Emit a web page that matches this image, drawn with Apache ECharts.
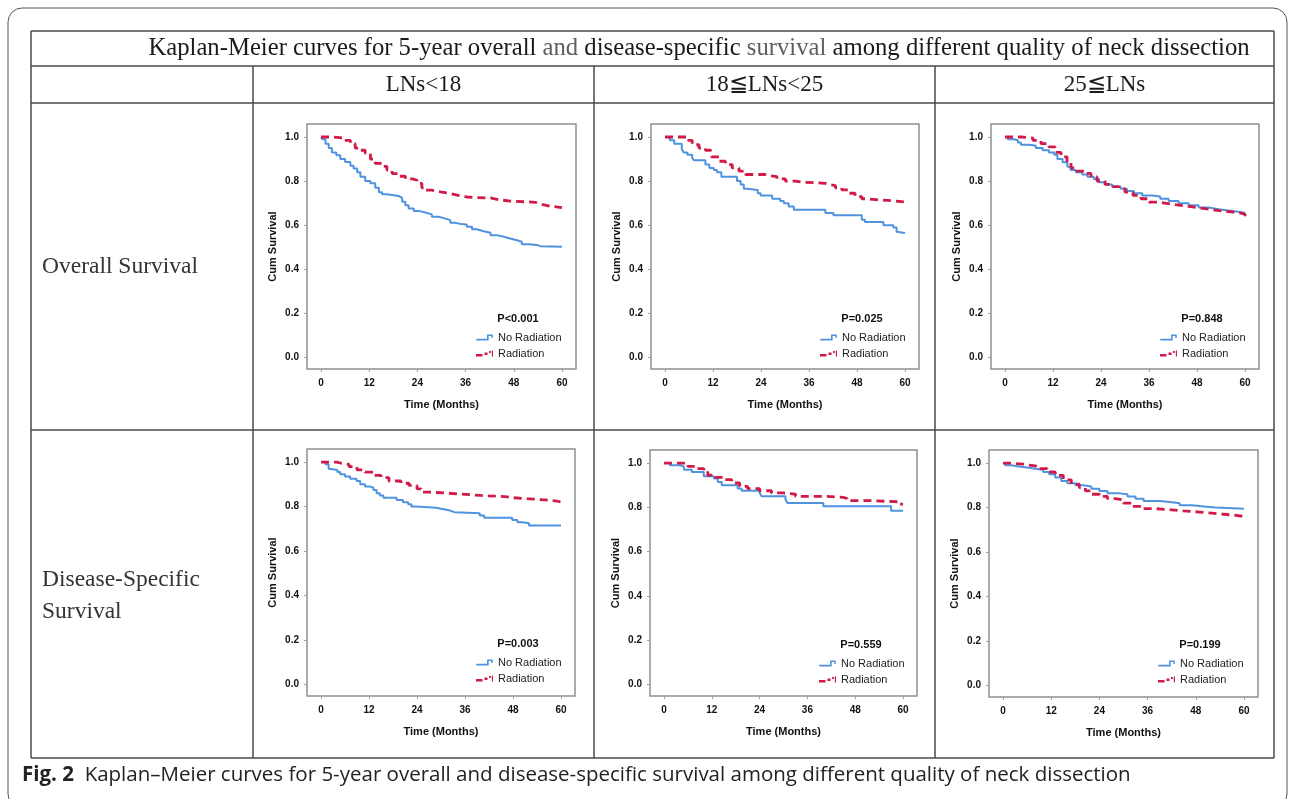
<!DOCTYPE html>
<html><head><meta charset="utf-8">
<script src="https://cdn.jsdelivr.net/npm/echarts@6/dist/echarts.min.js"></script>
<style>html,body{margin:0;padding:0;background:#fff}#c{width:1290px;height:799px}</style>
</head><body><div id="c"></div>
<script>
// ---------- data ----------
const tableTitleParts = ['Kaplan-Meier curves for 5-year overall ', 'and', ' disease-specific ', 'survival', ' among different quality of neck dissection'];
const columnHeaders = ['LNs<18', '18\u2266LNs<25', '25\u2266LNs'];
const rowHeaders = [['Overall Survival'], ['Disease-Specific', 'Survival']];
const captionLabel = 'Fig. 2';
const captionText = 'Kaplan\u2013Meier curves for 5-year overall and disease-specific survival among different quality of neck dissection';
const timeTicks = [0, 12, 24, 36, 48, 60];
const survTicks = [0, 0.2, 0.4, 0.6, 0.8, 1.0];
const seriesNames = ['No Radiation', 'Radiation'];
const pValues = ['P<0.001', 'P=0.025', 'P=0.848', 'P=0.003', 'P=0.559', 'P=0.199'];
const xAxisName = 'Time (Months)';
const yAxisName = 'Cum Survival';

const os1NoRad = [[0,1.0],[0.3,0.99],[1.1,0.97],[1.9,0.95],[2.7,0.93],[3.8,0.917],[4.8,0.90],[6.0,0.887],[7.3,0.87],[8.1,0.857],[9.0,0.84],[9.8,0.82],[11.0,0.80],[12.3,0.79],[13.5,0.77],[14.4,0.75],[15.2,0.74],[16.4,0.736],[18.1,0.733],[19.3,0.724],[20.2,0.706],[21.0,0.69],[21.8,0.676],[23.1,0.665],[24.3,0.658],[26.0,0.649],[27.6,0.638],[29.3,0.63],[31.0,0.623],[32.2,0.611],[33.4,0.605],[34.9,0.603],[36.3,0.593],[37.6,0.582],[38.8,0.573],[40.5,0.566],[42.2,0.555],[43.8,0.548],[45.5,0.54],[47.1,0.532],[48.8,0.525],[50.0,0.514],[51.7,0.51],[53.8,0.505],[54.6,0.502],[60,0.502]];
const os1Rad = [[0,1.0],[3.2,0.995],[5.6,0.985],[7.3,0.97],[8.5,0.95],[9.8,0.94],[11.0,0.925],[12.3,0.90],[13.5,0.88],[15.2,0.867],[16.4,0.85],[17.7,0.834],[19.3,0.822],[21.0,0.81],[22.7,0.804],[23.9,0.79],[25.1,0.77],[26.0,0.759],[27.6,0.751],[29.7,0.744],[32.2,0.736],[33.9,0.728],[36.3,0.725],[38.8,0.724],[42.2,0.716],[44.2,0.709],[47.1,0.706],[51.3,0.704],[53.4,0.695],[55.0,0.686],[57.1,0.68],[60,0.679]];
const os2NoRad = [[0,1.0],[1.2,0.985],[2.3,0.97],[4.2,0.945],[4.7,0.93],[5.6,0.92],[6.8,0.905],[7.2,0.895],[10.1,0.875],[11.1,0.86],[12.2,0.85],[13.0,0.84],[14.1,0.82],[18.0,0.80],[18.9,0.785],[19.7,0.765],[20.5,0.76],[23.2,0.745],[23.9,0.735],[26.8,0.72],[28.8,0.71],[29.7,0.70],[30.9,0.685],[32.2,0.67],[40.1,0.655],[42.1,0.645],[49.2,0.625],[50.0,0.615],[54.6,0.60],[57.1,0.59],[57.9,0.57],[58.3,0.565],[60,0.565]];
const os2Rad = [[0,1.0],[5.8,0.985],[6.8,0.965],[8.5,0.95],[10.1,0.94],[11.4,0.935],[11.6,0.91],[13.5,0.89],[15.1,0.875],[16.8,0.86],[18.5,0.845],[20.1,0.83],[25.1,0.825],[25.9,0.82],[28.0,0.81],[30.1,0.80],[32.6,0.795],[34.7,0.79],[40.1,0.785],[40.9,0.78],[42.6,0.77],[44.2,0.76],[45.9,0.745],[47.5,0.73],[49.2,0.72],[50.5,0.715],[53.4,0.71],[57.5,0.705],[60,0.70]];
const os3NoRad = [[0,1.0],[0.7,0.99],[2.3,0.985],[3.2,0.975],[4.0,0.965],[6.1,0.96],[7.7,0.95],[9.4,0.94],[11.0,0.93],[12.3,0.92],[13.1,0.90],[14.4,0.885],[15.6,0.865],[16.4,0.85],[17.7,0.84],[19.3,0.83],[20.6,0.82],[22.2,0.81],[23.5,0.795],[25.1,0.785],[26.8,0.775],[28.9,0.765],[30.5,0.755],[32.2,0.745],[34.3,0.735],[36.8,0.73],[38.8,0.72],[40.9,0.71],[43.4,0.70],[45.9,0.69],[48.4,0.68],[50.9,0.672],[53.4,0.665],[56.7,0.66],[58.8,0.655],[60,0.655]];
const os3Rad = [[0,1.0],[4,0.995],[7,0.985],[9,0.97],[11,0.955],[12.5,0.93],[14,0.91],[15.5,0.885],[16.5,0.86],[18,0.845],[20,0.835],[21.5,0.82],[23,0.80],[25,0.785],[27,0.775],[28.5,0.765],[30,0.75],[32,0.735],[34,0.72],[36,0.705],[38,0.70],[40,0.695],[42,0.69],[44,0.685],[46,0.68],[48,0.675],[50,0.67],[52,0.665],[54,0.66],[57,0.655],[59,0.65],[60,0.635]];
const dss1NoRad = [[0,1.0],[1.1,0.99],[1.9,0.97],[2.2,0.965],[4.1,0.955],[4.8,0.945],[6.0,0.935],[7.3,0.925],[8.9,0.915],[9.8,0.90],[11.0,0.89],[12.3,0.885],[13.1,0.875],[13.9,0.86],[14.7,0.85],[15.6,0.84],[18.9,0.83],[20.5,0.82],[21.8,0.81],[22.6,0.80],[23.8,0.795],[28.8,0.79],[30.0,0.785],[31.7,0.78],[32.5,0.775],[33.4,0.77],[39.7,0.76],[40.8,0.75],[47.8,0.74],[49.1,0.73],[50.3,0.725],[52.0,0.715],[60,0.715]];
const dss1Rad = [[0,1.0],[4,0.995],[5,0.99],[7,0.98],[9,0.965],[11,0.955],[13,0.94],[15,0.93],[17,0.915],[20,0.905],[22,0.895],[24,0.88],[25,0.865],[27,0.86],[32,0.855],[36,0.85],[40,0.848],[42,0.845],[46,0.84],[48,0.835],[52,0.83],[56,0.825],[59,0.82],[60,0.82]];
const dss2NoRad = [[0,1.0],[1.5,0.99],[4,0.985],[5,0.97],[7,0.96],[10,0.94],[12.5,0.93],[13.5,0.915],[14.5,0.90],[18.5,0.885],[19.5,0.875],[24,0.865],[24.5,0.85],[30.5,0.835],[31,0.82],[40,0.805],[57,0.785],[60,0.785]];
const dss2Rad = [[0,1.0],[6,0.985],[8,0.975],[10,0.965],[11,0.945],[12,0.935],[15,0.925],[17,0.91],[19,0.895],[21,0.885],[24,0.875],[27,0.865],[30,0.86],[33,0.85],[40,0.845],[45,0.84],[46,0.83],[52,0.825],[59,0.815],[60,0.815]];
const dss3NoRad = [[0,1.0],[0.5,0.99],[2,0.985],[4,0.98],[6,0.975],[8,0.97],[10,0.96],[11.5,0.95],[13,0.935],[14.5,0.92],[16,0.91],[18,0.90],[20,0.895],[22,0.885],[24,0.875],[26,0.865],[28.5,0.86],[31,0.85],[33,0.84],[35,0.83],[39,0.825],[41.5,0.82],[44,0.81],[47,0.805],[50,0.80],[53,0.795],[60,0.795]];
const dss3Rad = [[0,1.0],[2,0.995],[5,0.99],[7,0.985],[9,0.975],[11,0.96],[13,0.945],[15,0.925],[17,0.905],[19,0.89],[20.5,0.875],[22,0.86],[24,0.85],[26,0.84],[28,0.835],[30,0.82],[32,0.805],[35,0.795],[38,0.79],[42,0.785],[45,0.78],[49,0.775],[52,0.77],[55,0.765],[58,0.76],[60,0.755]];

const panelData = [[os1NoRad, os1Rad], [os2NoRad, os2Rad], [os3NoRad, os3Rad], [dss1NoRad, dss1Rad], [dss2NoRad, dss2Rad], [dss3NoRad, dss3Rad]];

// ---------- layout / style ----------
const boxes = [
  {l:307, t:124, w:269, h:245}, {l:651, t:124, w:268, h:245}, {l:991, t:124, w:268, h:245},
  {l:307, t:449, w:268, h:247}, {l:650, t:450, w:267, h:246}, {l:989, t:450, w:269, h:247}
];
const BLUE = '#4f93df', RED = '#d11a48', LINE = '#4a4a4a';
const SANS = 'Liberation Sans, Arial, sans-serif';
const SERIF = 'Liberation Serif, Times New Roman, serif';
const blueIcon = 'path://M0,4.2L10.8,4.2L10.8,0L16.5,0L16.5,3.6L15,3.6L15,1.6L12.4,1.6L12.4,6L0,6Z';
const redIcon = 'path://M0,3.4h6.5v2.6h-6.5z M8.5,2h3v2.6h-3z M13,0.6h1.8v2h-1.8z M15.8,0h1.2v6h-1.2z';

const grids = [], xAxes = [], yAxes = [], series = [], legends = [], graphics = [];

// frame + table
graphics.push({type:'rect', shape:{x:8, y:8, width:1279, height:800, r:14}, style:{fill:'none', stroke:'#555', lineWidth:1}});
const tl = 31, tr = 1274, tt = 31, tb = 758;
[tt, 66, 103, 430, tb].forEach(y => graphics.push({type:'line', shape:{x1:tl, y1:y, x2:tr, y2:y}, style:{stroke:LINE, lineWidth:1.5}}));
graphics.push({type:'line', shape:{x1:tl, y1:tt, x2:tl, y2:tb}, style:{stroke:LINE, lineWidth:1.5}});
graphics.push({type:'line', shape:{x1:tr, y1:tt, x2:tr, y2:tb}, style:{stroke:LINE, lineWidth:1.5}});
[253, 594, 935].forEach(x => graphics.push({type:'line', shape:{x1:x, y1:66, x2:x, y2:tb}, style:{stroke:LINE, lineWidth:1.5}}));

const titleRich = {
  a:{fontSize:24.7, fontFamily:SERIF, fill:'#1a1a1a'},
  b:{fontSize:24.7, fontFamily:SERIF, fill:'#5e5e5e'}
};
graphics.push({type:'text', x:699, y:49, style:{
  text: tableTitleParts.map((p,i) => '{' + (i % 2 ? 'b' : 'a') + '|' + p + '}').join(''),
  rich:titleRich, align:'center', verticalAlign:'middle'}});

const colCenters = [423.5, 764.5, 1104.5];
columnHeaders.forEach((h,i) => graphics.push({type:'text', x:colCenters[i], y:85, style:{text:h, font:'23px ' + SERIF, fill:'#1a1a1a', align:'center', verticalAlign:'middle'}}));
graphics.push({type:'text', x:42, y:267, style:{text:rowHeaders[0][0], font:'23.5px ' + SERIF, fill:'#333', align:'left', verticalAlign:'middle'}});
graphics.push({type:'text', x:42, y:580, style:{text:rowHeaders[1][0], font:'23.5px ' + SERIF, fill:'#333', align:'left', verticalAlign:'middle'}});
graphics.push({type:'text', x:42, y:612, style:{text:rowHeaders[1][1], font:'23.5px ' + SERIF, fill:'#333', align:'left', verticalAlign:'middle'}});

graphics.push({type:'text', x:22, y:775, style:{
  text:'{f|' + captionLabel + '}{c|  ' + captionText + '}',
  rich:{f:{fontSize:20.5, fontWeight:'bold', fontFamily:'Open Sans, sans-serif', fill:'#222'}, c:{fontSize:20.5, fontFamily:'Open Sans, sans-serif', fill:'#222'}},
  align:'left', verticalAlign:'middle'}});

boxes.forEach((b,i) => {
  grids.push({left:b.l, top:b.t, width:b.w, height:b.h, show:true, borderColor:'#909090', borderWidth:1.5, backgroundColor:'transparent'});
  const lbl = {fontSize:10, fontWeight:'bold', fontFamily:SANS, color:'#111'};
  const nm = {fontSize:11, fontWeight:'bold', fontFamily:SANS, color:'#111'};
  xAxes.push({type:'value', gridIndex:i, min:-3.5, max:63.5,
    axisLine:{show:false, onZero:false}, splitLine:{show:false},
    axisTick:{show:true, length:3, customValues:timeTicks, lineStyle:{color:'#a0a0a0'}},
    axisLabel:Object.assign({customValues:timeTicks, margin:9}, lbl),
    name:xAxisName, nameLocation:'middle', nameGap:30, nameTextStyle:nm});
  yAxes.push({type:'value', gridIndex:i, min:-0.052, max:1.059,
    axisLine:{show:false, onZero:false}, splitLine:{show:false},
    axisTick:{show:true, length:3, customValues:survTicks, lineStyle:{color:'#a0a0a0'}},
    axisLabel:Object.assign({customValues:survTicks, margin:8, formatter:v => v.toFixed(1)}, lbl),
    name:yAxisName, nameLocation:'middle', nameGap:29, nameRotate:90, nameTextStyle:nm});
  series.push({type:'line', name:seriesNames[0], xAxisIndex:i, yAxisIndex:i, step:'end', symbol:'none', showSymbol:false,
    data:panelData[i][0], lineStyle:{color:BLUE, width:2}, itemStyle:{color:BLUE}, silent:true, z:2});
  series.push({type:'line', name:seriesNames[1], xAxisIndex:i, yAxisIndex:i, step:'end', symbol:'none', showSymbol:false,
    data:panelData[i][1], lineStyle:{color:RED, width:2.8, type:[8,5]}, itemStyle:{color:RED}, silent:true, z:3});
  legends.push({show:true, orient:'vertical', left:b.l + 169, top:b.t + 208, itemWidth:17, itemHeight:6, itemGap:5, padding:0,
    selectedMode:false, itemStyle:{borderWidth:0},
    textStyle:{fontSize:11, fontFamily:SANS, color:'#222'},
    data:[{name:seriesNames[0], icon:blueIcon}, {name:seriesNames[1], icon:redIcon}]});
  graphics.push({type:'text', x:b.l + 211, y:b.t + 195, style:{text:pValues[i], font:'bold 11px ' + SANS, fill:'#111', align:'center', verticalAlign:'middle'}});
});

const chart = echarts.init(document.getElementById('c'), null, {width:1290, height:799});
chart.setOption({animation:false, backgroundColor:'#fff', grid:grids, xAxis:xAxes, yAxis:yAxes, series:series, legend:legends, graphic:graphics});
</script></body></html>
